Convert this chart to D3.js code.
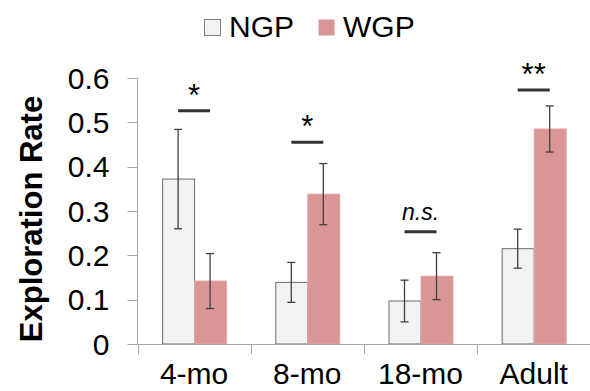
<!DOCTYPE html>
<html>
<head>
	<meta charset="utf-8">
	<title>Exploration Rate</title>
	<script type="text/javascript" src="https://d3js.org/d3.v7.min.js"></script>
	<style>
		body { margin: 0; background: #fff; }
		text { font-family: "Liberation Sans", Arial, sans-serif; fill: #000; }
	</style>
</head>
<body>
	<div id="chart"></div>
	<script>
	var categories = ["4-mo", "8-mo", "18-mo", "Adult"];
	var seriesNames = ["NGP", "WGP"];
	var ngpValues = [0.372, 0.139, 0.097, 0.215];
	var ngpErrors = [0.112, 0.045, 0.047, 0.044];
	var wgpValues = [0.142, 0.338, 0.153, 0.485];
	var wgpErrors = [0.062, 0.069, 0.053, 0.052];
	var yTicks = [0, 0.1, 0.2, 0.3, 0.4, 0.5, 0.6];
	// significance marks and the level of their bars
	var sigLabels = ["*", "*", "n.s.", "**"];
	var sigLevels = [0.526, 0.455, 0.253, 0.573];

	var width = 590;
	var height = 391;
	var colors = { NGP: "#f2f2f2", WGP: "#d99694" };

	var svg = d3.select("#chart")
		.append("svg")
		.attr("width", width)
		.attr("height", height);

	var y = d3.scaleLinear()
		.domain([0, 0.6])
		.range([344, 78]);

	var x = d3.scaleBand()
		.domain(categories)
		.range([137.5, 590.3])
		.padding(0);

	var bw = x.bandwidth();
	var sub = d3.scaleBand()
		.domain(seriesNames)
		.range([(bw - 64) / 2, (bw + 64) / 2]);

	var rows = categories.map(function(c, i) {
		return { cat: c, values: [
			{ key: "NGP", v: ngpValues[i], e: ngpErrors[i] },
			{ key: "WGP", v: wgpValues[i], e: wgpErrors[i] }
		]};
	});

	// y axis
	var yAxis = svg.append("g").attr("transform", "translate(137.5,0)");
	yAxis.append("line")
		.attr("x1", 0).attr("x2", 0)
		.attr("y1", y(0.6)).attr("y2", y(0))
		.attr("stroke", "#a6a6a6").attr("stroke-width", 1);
	yAxis.selectAll(".tick")
		.data(yTicks)
		.enter()
		.append("line")
		.attr("x1", -10).attr("x2", 0)
		.attr("y1", function(d) { return Math.round(y(d)) + 0.5; })
		.attr("y2", function(d) { return Math.round(y(d)) + 0.5; })
		.attr("stroke", "#a6a6a6");
	yAxis.selectAll(".lbl")
		.data(yTicks)
		.enter()
		.append("text")
		.attr("x", -28)
		.attr("y", function(d) { return y(d); })
		.attr("dy", "0.36em")
		.attr("text-anchor", "end")
		.style("font-size", "30px")
		.text(function(d) { return d === 0 ? "0" : d3.format(".1f")(d); });

	// bars
	var groups = svg.selectAll(".grp")
		.data(rows)
		.enter()
		.append("g")
		.attr("transform", function(d) { return "translate(" + x(d.cat) + ",0)"; });

	groups.selectAll("rect")
		.data(function(d) { return d.values; })
		.enter()
		.append("rect")
		.attr("x", function(d) { return sub(d.key) + 0.5; })
		.attr("y", function(d) { return y(d.v); })
		.attr("width", sub.bandwidth())
		.attr("height", function(d) { return y(0) - y(d.v); })
		.attr("fill", function(d) { return colors[d.key]; })
		.attr("stroke", function(d) { return d.key === "NGP" ? "#6b6b6b" : "#e3a9a8"; })
		.attr("stroke-width", 1);

	// error bars
	var err = groups.selectAll(".err")
		.data(function(d) { return d.values; })
		.enter()
		.append("g")
		.attr("stroke", "#404040")
		.attr("stroke-width", 1.3);
	err.append("line")
		.attr("x1", function(d) { return sub(d.key) + sub.bandwidth() / 2; })
		.attr("x2", function(d) { return sub(d.key) + sub.bandwidth() / 2; })
		.attr("y1", function(d) { return y(d.v + d.e); })
		.attr("y2", function(d) { return y(d.v - d.e); });
	err.selectAll(".cap")
		.data(function(d) { return [d.v + d.e, d.v - d.e].map(function(t) { return { key: d.key, t: t }; }); })
		.enter()
		.append("line")
		.attr("x1", function(d) { return sub(d.key) + sub.bandwidth() / 2 - 4; })
		.attr("x2", function(d) { return sub(d.key) + sub.bandwidth() / 2 + 4; })
		.attr("y1", function(d) { return y(d.t); })
		.attr("y2", function(d) { return y(d.t); });

	// x axis
	var xAxis = svg.append("g");
	xAxis.append("line")
		.attr("x1", 128).attr("x2", width)
		.attr("y1", Math.round(y(0)) + 0.5).attr("y2", Math.round(y(0)) + 0.5)
		.attr("stroke", "#a6a6a6");
	xAxis.selectAll(".xt")
		.data(categories.concat(["end"]))
		.enter()
		.append("line")
		.attr("x1", function(d, i) { return Math.round(x.range()[0] + i * bw) + 0.5; })
		.attr("x2", function(d, i) { return Math.round(x.range()[0] + i * bw) + 0.5; })
		.attr("y1", y(0)).attr("y2", y(0) + 10)
		.attr("stroke", "#a6a6a6");
	xAxis.selectAll(".xl")
		.data(categories)
		.enter()
		.append("text")
		.attr("x", function(d) { return x(d) + bw / 2; })
		.attr("y", 384)
		.attr("text-anchor", "middle")
		.style("font-size", "30px")
		.text(function(d) { return d; });

	// significance
	var sig = svg.selectAll(".sig")
		.data(categories)
		.enter()
		.append("g")
		.attr("transform", function(d) { return "translate(" + x(d) + ",0)"; });
	sig.append("line")
		.attr("x1", sub("NGP") + sub.bandwidth() / 2)
		.attr("x2", sub("WGP") + sub.bandwidth() / 2)
		.attr("y1", function(d, i) { return y(sigLevels[i]); })
		.attr("y2", function(d, i) { return y(sigLevels[i]); })
		.attr("stroke", "#333")
		.attr("stroke-width", 3);
	sig.append("text")
		.attr("x", bw / 2)
		.attr("y", function(d, i) { return y(sigLevels[i]) - (sigLabels[i] === "n.s." ? 12 : 5); })
		.attr("text-anchor", "middle")
		.style("font-size", function(d, i) { return sigLabels[i] === "n.s." ? "23px" : "31px"; })
		.style("font-style", function(d, i) { return sigLabels[i] === "n.s." ? "italic" : "normal"; })
		.text(function(d, i) { return sigLabels[i]; });

	// y title
	svg.append("text")
		.attr("transform", "translate(42,219) rotate(-90)")
		.attr("text-anchor", "middle")
		.style("font-size", "31px")
		.style("font-weight", "bold")
		.text("Exploration Rate");

	// legend
	var legendX = [204, 318];
	var legend = svg.selectAll(".leg")
		.data(seriesNames)
		.enter()
		.append("g")
		.attr("transform", function(d, i) { return "translate(" + legendX[i] + ",19)"; });
	legend.append("rect")
		.attr("x", 0.5).attr("y", 0.5)
		.attr("width", 16).attr("height", 16)
		.attr("fill", function(d) { return colors[d]; })
		.attr("stroke", function(d) { return d === "NGP" ? "#7f7f7f" : "none"; });
	legend.append("text")
		.attr("x", 25)
		.attr("y", 17.5)
		.style("font-size", "30px")
		.text(function(d) { return d; });
	</script>
</body>
</html>
